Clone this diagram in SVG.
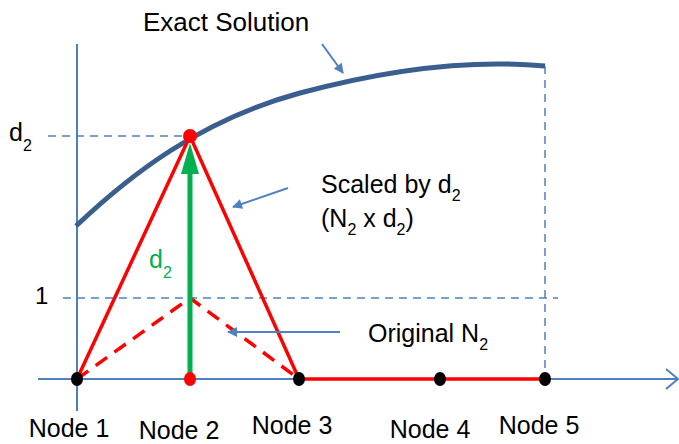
<svg xmlns="http://www.w3.org/2000/svg" width="679" height="444" viewBox="0 0 679 444">
<defs>
<style>
.t{font-family:"Liberation Sans",Arial,sans-serif;fill:#000}
.axis{stroke:#4f81bd;stroke-width:2;fill:none}
.guide{stroke:#4f81bd;stroke-width:1.5;stroke-dasharray:8,6;fill:none}
.red{stroke:#ff0000;stroke-width:3.5;fill:none;stroke-linejoin:round}
.reddash{stroke:#ff0000;stroke-width:3.5;fill:none;stroke-dasharray:14,9}
.ptr{stroke:#4f81bd;stroke-width:2;fill:none}
.blk{fill:#000}
.rdot{fill:#ff0000}
</style>
<marker id="ah" viewBox="0 0 10 10" refX="9" refY="5" markerWidth="6" markerHeight="5" orient="auto" markerUnits="strokeWidth">
<path d="M0,0 L10,5 L0,10 z" fill="#4f81bd"/>
</marker>
</defs>
<g id="axes">
<line class="axis" x1="77" y1="44" x2="77" y2="411"/>
<line class="axis" x1="38" y1="379" x2="678" y2="379"/>
<polyline class="axis" points="666,369 678,379 666,389"/>
</g>
<g id="guides">
<line class="guide" x1="48" y1="136" x2="190" y2="136"/>
<line class="guide" x1="63" y1="298" x2="558" y2="298"/>
<line class="guide" x1="545" y1="66" x2="545" y2="379"/>
</g>
<g id="exact-solution">
<path d="M76,226 C130,175 200,120 300,93 S480,60 545,66" stroke="#3a5f8f" stroke-width="5" fill="none"/>
</g>
<g id="connectors">
<polyline class="red" points="77,379 190,136 299,379 545,379"/>
<polyline class="reddash" points="77,379 190,298 299,379"/>
<line x1="190" y1="379" x2="190" y2="170" stroke="#00b050" stroke-width="5"/>
<polygon points="190,143 181,174 199,174" fill="#00b050"/>
<line class="ptr" x1="322" y1="44" x2="343" y2="73" marker-end="url(#ah)"/>
<line class="ptr" x1="288" y1="188" x2="233" y2="207" marker-end="url(#ah)"/>
<line class="ptr" x1="340" y1="332" x2="228" y2="332" marker-end="url(#ah)"/>
</g>
<g id="node1"><ellipse class="blk" cx="77" cy="379" rx="6" ry="7"/><text class="t" x="69" y="437" font-size="25" text-anchor="middle">Node 1</text></g>
<g id="node2"><ellipse class="rdot" cx="190" cy="379" rx="6" ry="7"/><text class="t" x="179" y="439" font-size="25" text-anchor="middle">Node 2</text></g>
<g id="node3"><ellipse class="blk" cx="299" cy="379" rx="6" ry="7"/><text class="t" x="292" y="434" font-size="25" text-anchor="middle">Node 3</text></g>
<g id="node4"><ellipse class="blk" cx="440" cy="379" rx="6" ry="7"/><text class="t" x="430" y="438" font-size="25" text-anchor="middle">Node 4</text></g>
<g id="node5"><ellipse class="blk" cx="545" cy="379" rx="6" ry="7"/><text class="t" x="539" y="434" font-size="25" text-anchor="middle">Node 5</text></g>
<g id="peak"><circle class="rdot" cx="190" cy="136" r="7"/></g>
<g id="labels">
<text class="t" x="143" y="31" font-size="26">Exact Solution</text>
<text class="t" x="9" y="141" font-size="25">d<tspan font-size="16" dy="10">2</tspan></text>
<text class="t" x="35" y="304" font-size="24">1</text>
<text class="t" x="149" y="268" font-size="25" style="fill:#00b050">d<tspan font-size="16" dy="10">2</tspan></text>
<text class="t" x="321" y="193" font-size="25">Scaled by d<tspan font-size="16" dy="8">2</tspan></text>
<text class="t" x="321" y="227" font-size="25">(N<tspan font-size="16" dy="8">2</tspan><tspan dy="-8"> x d</tspan><tspan font-size="16" dy="8">2</tspan><tspan dy="-8">)</tspan></text>
<text class="t" x="368" y="342" font-size="25">Original N<tspan font-size="16" dy="8">2</tspan></text>
</g>
</svg>
